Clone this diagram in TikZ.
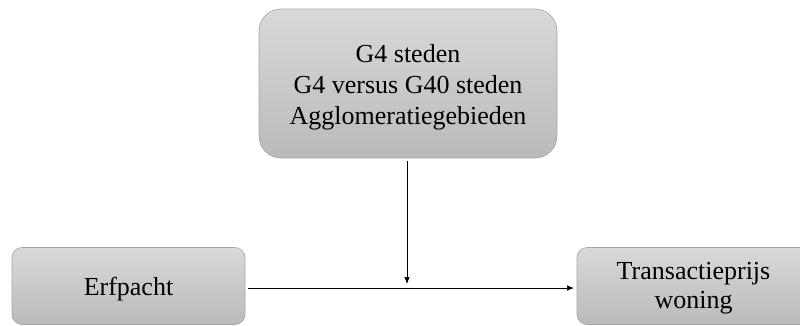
\documentclass[tikz,border=0pt]{standalone}
\usepackage{fontspec}
\setmainfont{Liberation Serif}
\usetikzlibrary{arrows.meta}
\tikzset{
  greybox/.style={draw=black!35, line width=0.6pt, top color=black!15, bottom color=black!27,
    align=center, font=\fontsize{26}{31}\selectfont, inner sep=0pt, outer sep=3pt},
  conn/.style={line width=0.7pt, -{Latex[length=7pt,width=5.5pt]}}
}
\begin{document}
\begin{tikzpicture}[x=1pt,y=-1pt]
\useasboundingbox (0,0) rectangle (800,325);
\node[greybox, rounded corners=22pt, minimum width=298pt, minimum height=149pt] (mod) at (408,83.5)
  {\rule{0pt}{26pt}G4 steden\\G4 versus G40 steden\\Agglomeratiegebieden};
\node[greybox, rounded corners=10pt, minimum width=233pt, minimum height=77pt] (erf) at (128.5,286) {\rule{0pt}{24pt}Erfpacht};
\node[greybox, rounded corners=10pt, minimum width=233pt, minimum height=77pt,
  font=\fontsize{26}{29}\selectfont] (tp) at (693.5,286) {\rule{0pt}{21pt}Transactieprijs\\woning};
\coordinate (meet) at (407,284);
\draw[conn] (mod.south -| meet) -- (meet);
\draw[conn] (erf.east |- 0,288) -- (tp.west |- 0,288);
\end{tikzpicture}
\end{document}
